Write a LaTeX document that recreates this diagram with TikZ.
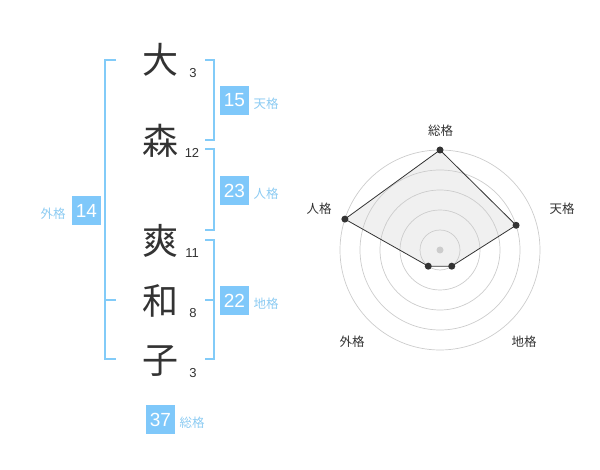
\documentclass[tikz,border=0pt]{standalone}
\usepackage{fontspec}
\usetikzlibrary{calc}
\setmainfont{Liberation Sans}
\newfontfamily\jp{Noto Sans CJK JP}
\definecolor{boxblue}{HTML}{7FC8FA}
\definecolor{brk}{HTML}{82CBF8}
\definecolor{lbl}{HTML}{8CCBF2}
\definecolor{ink}{HTML}{333333}
\definecolor{ring}{HTML}{CCCCCC}
\tikzset{
  kanji/.style={font=\jp\fontsize{36}{36}\selectfont, text=ink, inner sep=0pt},
  strokes/.style={font=\fontsize{13}{13}\selectfont, text=ink, inner sep=0pt},
  valbox/.style={fill=boxblue, text=white, minimum width=29pt, minimum height=29pt, inner sep=0pt, font=\fontsize{19}{19}\selectfont},
  kaku/.style={font=\jp\fontsize{12.5}{12.5}\selectfont, text=lbl, inner sep=0pt},
  bracket/.style={draw=brk, line width=1.6pt},
  radlbl/.style={font=\jp\fontsize{12.5}{12.5}\selectfont, text=ink, inner sep=0pt},
  ringline/.style={draw=ring, line width=0.7pt},
  vdot/.style={circle, fill=ink, inner sep=0pt, minimum size=7pt},
}
\begin{document}
\begin{tikzpicture}[x=1pt,y=-1pt]
\useasboundingbox (0,0) rectangle (600,470);
% characters
\node[kanji] (k1) at (160,60) {大};
\node[kanji] (k2) at (160,141) {森};
\node[kanji] (k3) at (160,241) {爽};
\node[kanji] (k4) at (160,301) {和};
\node[kanji] (k5) at (160,361) {子};
\node[strokes] (s1) at (193,73) {3};
\node[strokes] (s2) at (192,153) {12};
\node[strokes] (s3) at (192,253) {11};
\node[strokes] (s4) at (193,313) {8};
\node[strokes] (s5) at (193,373) {3};
% brackets
\coordinate (oT) at (116,60); \coordinate (oB) at (116,359); \coordinate (oM) at (116,300);
\coordinate (oMv) at (105,300);
\draw[bracket] (oT) -| (105,359) -- (oB);
\draw[bracket] (oMv) -- (oM);
\coordinate (tT) at (205,60); \coordinate (tB) at (205,140);
\draw[bracket] (tT) -| (214,140) -- (tB);
\coordinate (jT) at (205,149); \coordinate (jB) at (205,230);
\draw[bracket] (jT) -| (214,230) -- (jB);
\coordinate (cT) at (205,240); \coordinate (cB) at (205,359); \coordinate (cM) at (205,300);
\draw[bracket] (cT) -| (214,359) -- (cB);
\draw[bracket] (cM) -- (214,300);
% value boxes
\node[valbox] (b15) at (234.5,100.5) {15};
\node[kaku] (l15) at (266,104) {天格};
\node[valbox] (b23) at (234.5,190.5) {23};
\node[kaku] (l23) at (266,194) {人格};
\node[valbox] (b14) at (86.5,210.5) {14};
\node[kaku] (l14) at (53,214) {外格};
\node[valbox] (b22) at (234.5,300.5) {22};
\node[kaku] (l22) at (266,304) {地格};
\node[valbox] (b37) at (160.5,419.5) {37};
\node[kaku] (l37) at (192,423) {総格};
% radar
\coordinate (c) at (440,250);
\coordinate (pS) at ($(c)+(-90:100)$);
\coordinate (pT) at ($(c)+(-18:80)$);
\coordinate (pC) at ($(c)+(54:20)$);
\coordinate (pG) at ($(c)+(126:20)$);
\coordinate (pJ) at ($(c)+(-162:100)$);
\fill[black, fill opacity=0.06] (pS) -- (pT) -- (pC) -- (pG) -- (pJ) -- cycle;
\foreach \r in {20,40,60,80,100} \draw[ringline] (c) circle[radius=\r];
\node[circle, fill=ring, inner sep=0pt, minimum size=7pt] (cd) at (c) {};
\draw[ink, line width=0.8pt] (pS) -- (pT) -- (pC) -- (pG) -- (pJ) -- cycle;
\foreach \p in {pS,pT,pC,pG,pJ} \node[vdot] at (\p) {};
\node[radlbl] (rS) at (440.7,130.7) {総格};
\node[radlbl] (rT) at (562,209) {天格};
\node[radlbl] (rJ) at (319,209) {人格};
\node[radlbl] (rG) at (352,342) {外格};
\node[radlbl] (rC) at (524,342) {地格};
\end{tikzpicture}
\end{document}
